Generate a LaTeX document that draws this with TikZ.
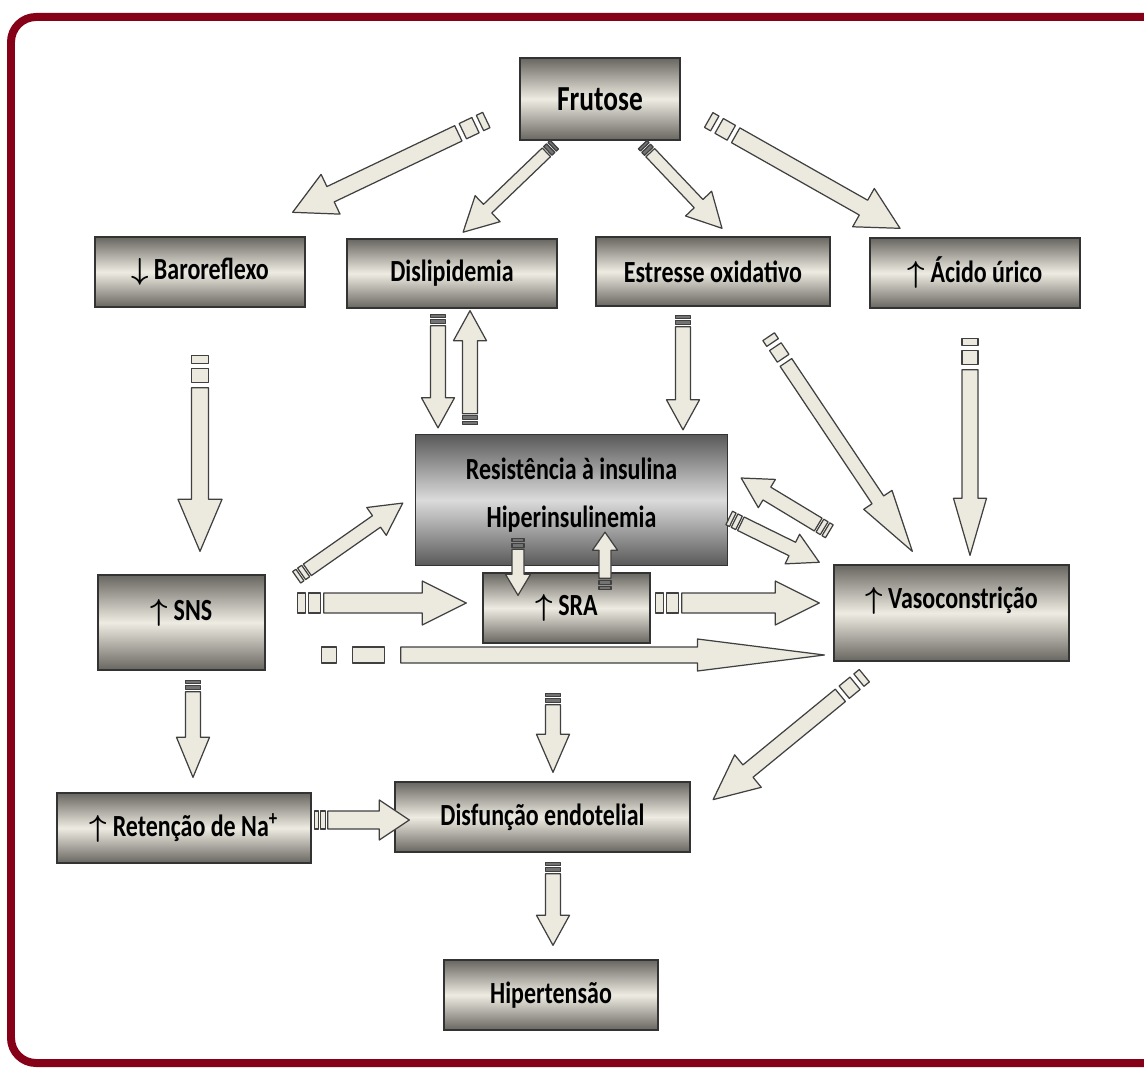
\documentclass[tikz,border=0pt]{standalone}
\usepackage{fontspec}
\usepackage{bm}
\usepackage{tikz}
\usetikzlibrary{calc}

\newfontfamily\boxfont[FakeStretch=0.78]{Carlito}

\definecolor{framered}{RGB}{134,0,24}
\definecolor{arrowfill}{RGB}{236,234,222}
\definecolor{boxlight}{RGB}{238,236,226}
\definecolor{boxdark}{RGB}{104,102,96}

%% ── block arrow keys (sizes in px of the layout) ─────────────
\tikzset{
  bar shaft/.store in=\barshaft, bar head/.store in=\barhead,
  bar tip/.store in=\bartip,     bar sa/.store in=\barsa,
  bar sb/.store in=\barsb,       bar gap/.store in=\bargap,
  bar sfill/.store in=\barsfill,
  bar shaft=16, bar head=34, bar tip=32, bar sa=7, bar sb=14, bar gap=5,
  bar sfill=arrowfill
}

%% striped block arrow from #2 to #3
\newcommand{\barrow}[3][]{%
  \begin{scope}[#1]
    \path let \p1=#2, \p2=#3 in \pgfextra{%
      \pgfmathsetmacro\barang{atan2(\y2-\y1,\x2-\x1)}%
      \pgfmathsetmacro\barlen{veclen(\x2-\x1,\y2-\y1)/0.569055}%
      \xdef\barang{\barang}\xdef\barlen{\barlen}};
    \begin{scope}[shift={#2}, rotate=\barang, x=0.02cm, y=0.02cm]
      \pgfmathsetmacro\barhs{\barshaft/2}
      \pgfmathsetmacro\barhh{\barhead/2}
      \pgfmathsetmacro\barx{\barsa+2*\bargap+\barsb}
      \pgfmathsetmacro\barb{\barlen-\bartip}
      \draw[barline, fill=\barsfill] (0,-\barhs) rectangle (\barsa,\barhs);
      \draw[barline, fill=\barsfill] ({\barsa+\bargap},-\barhs)
        rectangle ({\barsa+\bargap+\barsb},\barhs);
      \draw[barline, fill=arrowfill] (\barx,-\barhs) -- (\barb,-\barhs)
        -- (\barb,-\barhh) -- (\barlen,0) -- (\barb,\barhh)
        -- (\barb,\barhs) -- (\barx,\barhs) -- cycle;
    \end{scope}
  \end{scope}}

\newcommand{\up}{$\bm{\uparrow}$}
\newcommand{\down}{$\bm{\downarrow}$}

\begin{document}
\begin{tikzpicture}[
    x=0.02cm, y=-0.02cm,
    %% ── node styles ──────────────────────────────────────────
    box/.style   = {draw=black!80, line width=0.8pt, align=center, inner sep=2pt,
                    top color=boxdark, bottom color=boxdark, middle color=boxlight,
                    font=\boxfont\bfseries\fontsize{17.5}{27}\selectfont},
    gbox/.style  = {box, top color=black!65, bottom color=black!65,
                    middle color=black!14},
    barline/.style = {draw=black!75, line width=0.7pt, line join=round},
    %% ── arrow sizes ──────────────────────────────────────────
    big/.style   = {bar shaft=17, bar head=44, bar tip=42},
    fru/.style   = {bar shaft=12, bar head=36, bar tip=34},
    mid/.style   = {bar shaft=15, bar head=33, bar tip=30},
    small/.style = {bar shaft=12, bar head=25, bar tip=21},
    dark/.style  = {bar sa=3, bar sb=4, bar gap=2, bar sfill=black!55},
    thin/.style  = {bar sa=4, bar sb=5, bar gap=2}
]
\path[use as bounding box] (0,0) rectangle (1144,1068);
\clip (0,0) rectangle (1144,1068);

%% ── frame ────────────────────────────────────────────────────
\draw[framered, line width=0.16cm, rounded corners=0.5cm]
  (11,17) rectangle (1175,1063);

%% ── top row ──────────────────────────────────────────────────
\node[box, minimum width=3.2cm, minimum height=1.64cm,
      font=\boxfont\bfseries\fontsize{20}{24}\selectfont]
  (frutose) at (600,99) {Frutose};
\node[box, minimum width=4.2cm, minimum height=1.4cm]   (baro)     at (200,272)   {\down\ Baroreflexo};
\node[box, minimum width=4.2cm, minimum height=1.38cm]  (disli)    at (452,273.5) {Dislipidemia};
\node[box, minimum width=4.68cm, minimum height=1.38cm] (estresse) at (713,271.5) {Estresse oxidativo};
\node[box, minimum width=4.2cm, minimum height=1.4cm]   (acido)    at (975,273)   {\up\ Ácido úrico};

%% ── middle ───────────────────────────────────────────────────
\node[gbox, minimum width=6.24cm, minimum height=2.62cm, text depth=0.3cm]
  (resist) at (571.5,500) {Resistência à insulina\\Hiperinsulinemia};
\node[box, minimum width=3.34cm, minimum height=1.4cm]  (sra)  at (566.5,608) {\up\ SRA};
\node[box, minimum width=3.34cm, minimum height=1.9cm, text depth=0.5cm]
  (sns)  at (181.5,622.5) {\up\ SNS};
\node[box, minimum width=4.7cm, minimum height=1.92cm, text depth=0.62cm]
  (vaso) at (951.5,613) {\up\ Vasoconstrição};

%% ── bottom ───────────────────────────────────────────────────
\node[box, minimum width=5.08cm, minimum height=1.4cm] (reten) at (184,828)
  {\up\ Retenção de Na\textsuperscript{+}};
\node[box, minimum width=5.9cm, minimum height=1.4cm]  (disf)  at (542.5,817) {Disfunção endotelial};
\node[box, minimum width=4.28cm, minimum height=1.4cm] (hiper) at (551,995)   {Hipertensão};

%% ── arrows from Frutose ──────────────────────────────────────
\barrow[big]{($(frutose.west)+(-33,21)$)}{($(baro.north east)+(-13,-24)$)}
\barrow[fru,dark]{($(frutose.south west)+(35,4)$)}{($(disli.north)+(11,-6)$)}
\barrow[fru,dark]{($(frutose.south east)+(-38,4)$)}{($(estresse.north)+(9,-8)$)}
\barrow[big]{($(frutose.east)+(28,21)$)}{($(acido.north)+(-75,-9)$)}

%% ── arrows from the top row ──────────────────────────────────
\barrow[big, bar tip=52, bar sa=8]{($(baro.south)+(0,48)$)}{($(baro.south |- sns.north)+(0,-23)$)}
\barrow[mid,dark]{($(disli.south)+(-14,6)$)}{($(disli.south |- resist.north)+(-14,-6)$)}
\barrow[mid,dark]{($(disli.south |- resist.north)+(18,-9)$)}{($(disli.south)+(18,2)$)}
\barrow[mid,dark]{($(estresse.south)+(-30,9)$)}{($(estresse.south |- resist.north)+(-30,-4)$)}
\barrow[bar shaft=14, bar head=34, bar tip=62]{($(estresse.south east)+(-62,30)$)}{($(vaso.north west)+(79,-13)$)}
\barrow[bar shaft=16, bar head=33, bar tip=57]{($(acido.south)+(-5,30)$)}{($(acido.south |- vaso.north)+(-5,-9)$)}

%% ── arrows round the middle ──────────────────────────────────
\barrow[bar shaft=14, bar head=34, bar tip=32, thin]{($(sns.north east)+(31,3)$)}{($(resist.west)+(-12,3)$)}
\barrow[small,dark]{($(resist.south)+(-53.5,-28)$)}{($(sra.north)+(-48.5,23)$)}
\barrow[small,dark, bar tip=18]{($(sra.north)+(38.5,17)$)}{($(resist.south)+(33.5,-34)$)}
\barrow[mid,thin]{($(vaso.north west)+(-4,-33)$)}{($(resist.east)+(13,-22)$)}
\barrow[mid,thin]{($(resist.east)+(1,18)$)}{($(vaso.north west)+(-14,-2)$)}
\barrow[bar shaft=20, bar head=44, bar tip=44, bar sa=8, bar sb=12, bar gap=3]
  {($(sns.east)+(32,-19.5)$)}{($(sra.west)+(-16,-5)$)}
\barrow[bar shaft=20, bar head=44, bar tip=44, bar sa=8, bar sb=12, bar gap=3]
  {($(sra.east)+(5,-5)$)}{($(vaso.west)+(-14,-10)$)}
\barrow[bar shaft=16, bar head=32, bar tip=127, bar sa=15, bar sb=32, bar gap=16]
  {($(sns.east)+(56,32.5)$)}{($(vaso.west)+(-9,42)$)}

%% ── arrows to the bottom ─────────────────────────────────────
\barrow[mid,dark, bar tip=40]{($(sns.south)+(11.5,10)$)}{($(sns.south |- reten.north)+(11.5,-15)$)}
\barrow[bar shaft=18, bar head=40, bar tip=30, thin]{($(reten.east)+(3,-8)$)}{($(disf.west)+(15,3)$)}
\barrow[bar shaft=16, bar head=42, bar tip=45]{($(vaso.south west)+(31,14)$)}{($(disf.east)+(22,-17)$)}
\barrow[mid,dark, bar tip=38]{($(sra.south)+(-13.5,50)$)}{($(sra.south |- disf.north)+(-13.5,-9)$)}
\barrow[mid,dark]{($(disf.south)+(10.5,10)$)}{($(hiper.north)+(2,-14)$)}

\end{tikzpicture}
\end{document}
